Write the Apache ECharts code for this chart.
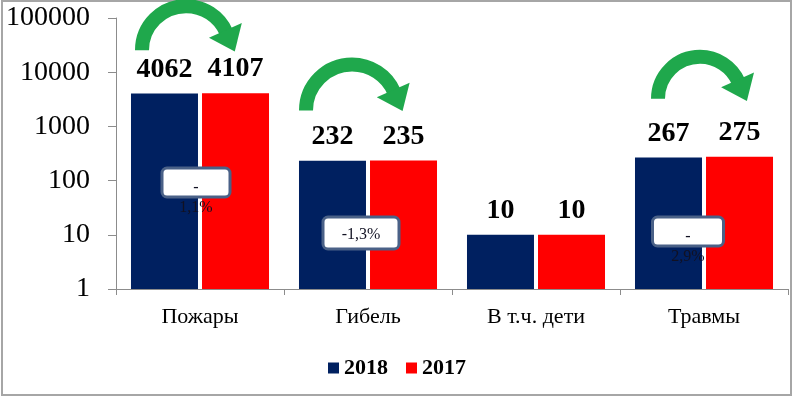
<!DOCTYPE html>
<html lang="ru">
<head>
    <meta charset="UTF-8">
    <script src="https://cdn.jsdelivr.net/npm/echarts@6/dist/echarts.min.js"></script>
    <title>Пожары 2018 / 2017</title>
    <style>
        html, body { margin: 0; padding: 0; background: #fff; }
        #chart { width: 794px; height: 398px; }
    </style>
</head>
<body>
<div id="chart"></div>
<script type="text/javascript">
    var categories = ['Пожары', 'Гибель', 'В т.ч. дети', 'Травмы'];
    var values2018 = [4062, 232, 10, 267];
    var values2017 = [4107, 235, 10, 275];
    var changeLabels = ['-\n1,1%', '-1,3%', '', '-\n2,9%'];

    var serif = '"Liberation Serif", "DejaVu Serif", serif';
    var green = '#1fa84c';

    var myChart = echarts.init(document.getElementById('chart'));
    var option = {
        animation: false,
        grid: { left: 116, right: 6, top: 18, bottom: 109 },
        legend: {
            data: ['2018', '2017'],
            left: 'center',
            top: 352,
            itemWidth: 11,
            itemHeight: 11,
            itemGap: 18,
            icon: 'rect',
            textStyle: { fontFamily: serif, fontSize: 22, fontWeight: 'bold', color: '#000' }
        },
        xAxis: {
            type: 'category',
            data: categories,
            axisLine: { lineStyle: { color: '#8c8c8c', width: 1 } },
            axisTick: { show: true, length: 6, lineStyle: { color: '#8c8c8c' } },
            axisLabel: { fontFamily: serif, fontSize: 22, color: '#000', margin: 17 }
        },
        yAxis: {
            type: 'log',
            logBase: 10,
            min: 1,
            max: 100000,
            splitLine: { show: false },
            axisLine: { show: true, lineStyle: { color: '#8c8c8c', width: 1 } },
            axisTick: { show: true, length: 8, lineStyle: { color: '#8c8c8c' } },
            axisLabel: {
                fontFamily: serif, fontSize: 28, color: '#000', margin: 26,
                formatter: function (v) { return String(Math.round(v)); }
            }
        },
        series: [
            {
                name: '2018',
                type: 'bar',
                data: values2018,
                barWidth: 67,
                barGap: '6%',
                itemStyle: { color: '#002060' },
                label: { show: true, position: 'top', distance: 10, fontFamily: serif, fontSize: 28, fontWeight: 'bold', color: '#000' }
            },
            {
                name: '2017',
                type: 'bar',
                data: values2017,
                barWidth: 67,
                barGap: '6%',
                itemStyle: { color: '#ff0000' },
                label: { show: true, position: 'top', distance: 10, fontFamily: serif, fontSize: 28, fontWeight: 'bold', color: '#000' }
            }
        ]
    };
    myChart.setOption(option);

    // декоративные стрелки и выноски, привязаны к категориям
    var arrows = [
        { cat: 0, dx: -14, lift: 43, r: 44 },
        { cat: 1, dx: -16, lift: 50, r: 46 },
        { cat: 3, dx: -4, lift: 58, r: 42 }
    ];
    var boxes = [
        { cat: 0, dx: -4, y: 168, w: 68, h: 29 },
        { cat: 1, dx: -7, y: 217, w: 76, h: 32 },
        { cat: 3, dx: -16, y: 217, w: 71, h: 29 }
    ];

    var graphics = [{
        type: 'rect',
        z: 100,
        shape: { x: 2, y: 1, width: 789, height: 394 },
        style: { fill: 'none', stroke: '#a6a6a6', lineWidth: 2 },
        silent: true
    }];

    arrows.forEach(function (a) {
        var px = myChart.convertToPixel({ xAxisIndex: 0 }, a.cat) + a.dx;
        var py = myChart.convertToPixel({ yAxisIndex: 0 }, values2017[a.cat]) - a.lift;
        var endAng = -24 * Math.PI / 180;
        var ex = px + a.r * Math.cos(endAng), ey = py + a.r * Math.sin(endAng);
        var tx = -Math.sin(endAng), ty = Math.cos(endAng);
        var nx = ty, ny = -tx;
        graphics.push({
            type: 'arc',
            z: 100,
            shape: { cx: px, cy: py, r: a.r, startAngle: Math.PI, endAngle: 2 * Math.PI + endAng, clockwise: true },
            style: { fill: 'none', stroke: green, lineWidth: 14 },
            silent: true
        });
        graphics.push({
            type: 'polygon',
            z: 100,
            shape: { points: [
                [ex + nx * 18 - tx * 2, ey + ny * 18 - ty * 2],
                [ex - nx * 18 - tx * 2, ey - ny * 18 - ty * 2],
                [ex + tx * 21, ey + ty * 21]
            ] },
            style: { fill: green },
            silent: true
        });
    });

    boxes.forEach(function (b) {
        var cx = myChart.convertToPixel({ xAxisIndex: 0 }, b.cat) + b.dx;
        graphics.push({
            type: 'rect',
            z: 100,
            shape: { x: cx - b.w / 2, y: b.y, width: b.w, height: b.h, r: 5 },
            style: { fill: '#fff', stroke: '#4a6187', lineWidth: 3 },
            silent: true
        });
        var txt = changeLabels[b.cat];
        var twoLines = txt.indexOf('\n') >= 0;
        graphics.push({
            type: 'text',
            z: 101,
            x: cx,
            y: twoLines ? b.y + 10 : b.y + b.h / 2 + 2,
            style: {
                text: txt,
                fontFamily: serif,
                fontSize: 16,
                lineHeight: 20,
                fill: '#111122',
                align: 'center',
                verticalAlign: twoLines ? 'top' : 'middle'
            },
            silent: true
        });
    });

    myChart.setOption({ graphic: graphics });
    window.onresize = myChart.resize;
</script>
</body>
</html>
